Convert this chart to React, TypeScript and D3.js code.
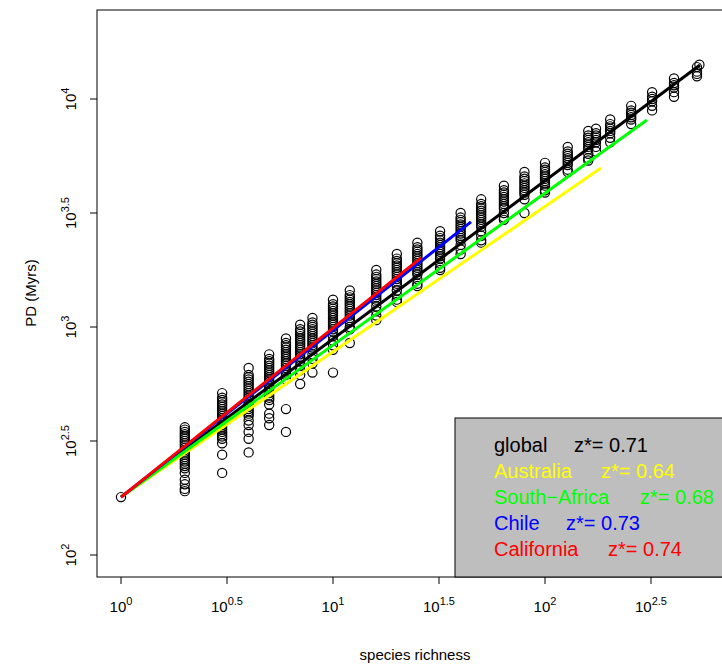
import React from 'react';
import * as d3 from 'd3';

// species richness of each sample column and log10(PD) of its points
const richness = [1, 2, 3, 4, 5, 6, 7, 8, 10, 12, 16, 20, 25, 32, 40, 50, 64, 80, 100, 128, 160, 174, 203, 255, 320, 406, 521, 535];
const logPD: number[][] = [
  [2.254],
  [2.56, 2.55, 2.54, 2.53, 2.52, 2.51, 2.5, 2.49, 2.48, 2.47, 2.46, 2.45, 2.44, 2.43, 2.42, 2.41, 2.4, 2.39, 2.38, 2.36, 2.33, 2.31, 2.29, 2.28],
  [2.71, 2.69, 2.68, 2.67, 2.66, 2.65, 2.64, 2.63, 2.62, 2.61, 2.6, 2.59, 2.58, 2.57, 2.56, 2.55, 2.54, 2.53, 2.52, 2.51, 2.49, 2.44, 2.36],
  [2.82, 2.79, 2.78, 2.77, 2.76, 2.75, 2.74, 2.73, 2.72, 2.71, 2.7, 2.69, 2.68, 2.67, 2.66, 2.65, 2.64, 2.63, 2.62, 2.61, 2.59, 2.57, 2.54, 2.51, 2.45],
  [2.88, 2.86, 2.85, 2.84, 2.83, 2.82, 2.81, 2.8, 2.79, 2.78, 2.77, 2.76, 2.75, 2.74, 2.73, 2.72, 2.71, 2.7, 2.69, 2.68, 2.66, 2.62, 2.6, 2.57],
  [2.95, 2.93, 2.92, 2.91, 2.9, 2.89, 2.88, 2.87, 2.86, 2.85, 2.84, 2.83, 2.82, 2.81, 2.8, 2.79, 2.77, 2.64, 2.54],
  [3.01, 2.99, 2.98, 2.97, 2.96, 2.95, 2.94, 2.93, 2.92, 2.91, 2.9, 2.89, 2.88, 2.87, 2.86, 2.85, 2.83, 2.81, 2.79, 2.75],
  [3.04, 3.02, 3.01, 3.0, 2.99, 2.98, 2.97, 2.96, 2.95, 2.94, 2.93, 2.92, 2.91, 2.9, 2.88, 2.86, 2.84, 2.8],
  [3.12, 3.1, 3.09, 3.08, 3.07, 3.06, 3.05, 3.04, 3.03, 3.02, 3.01, 3.0, 2.99, 2.98, 2.96, 2.94, 2.92, 2.9, 2.8],
  [3.16, 3.14, 3.13, 3.12, 3.11, 3.1, 3.09, 3.08, 3.07, 3.06, 3.05, 3.04, 3.03, 3.02, 3.0, 2.99, 2.93],
  [3.25, 3.23, 3.22, 3.21, 3.2, 3.19, 3.18, 3.17, 3.16, 3.15, 3.14, 3.13, 3.12, 3.11, 3.09, 3.07, 3.05, 3.03],
  [3.32, 3.3, 3.29, 3.28, 3.27, 3.26, 3.25, 3.24, 3.23, 3.22, 3.21, 3.2, 3.19, 3.18, 3.16, 3.14, 3.12, 3.11],
  [3.37, 3.35, 3.34, 3.33, 3.32, 3.31, 3.3, 3.29, 3.28, 3.27, 3.26, 3.25, 3.24, 3.23, 3.21, 3.19, 3.18],
  [3.42, 3.4, 3.39, 3.38, 3.37, 3.36, 3.35, 3.34, 3.33, 3.32, 3.31, 3.3, 3.28, 3.26, 3.25],
  [3.5, 3.48, 3.47, 3.46, 3.45, 3.44, 3.43, 3.42, 3.41, 3.4, 3.39, 3.38, 3.36, 3.34, 3.32],
  [3.56, 3.54, 3.53, 3.52, 3.51, 3.5, 3.49, 3.48, 3.47, 3.46, 3.45, 3.44, 3.42, 3.4, 3.38, 3.37],
  [3.62, 3.6, 3.59, 3.58, 3.57, 3.56, 3.55, 3.54, 3.53, 3.52, 3.5, 3.48, 3.47],
  [3.68, 3.66, 3.65, 3.64, 3.63, 3.62, 3.61, 3.6, 3.59, 3.58, 3.56, 3.5],
  [3.72, 3.7, 3.69, 3.68, 3.67, 3.66, 3.65, 3.64, 3.63, 3.62, 3.6, 3.59],
  [3.79, 3.77, 3.76, 3.75, 3.74, 3.73, 3.72, 3.71, 3.69, 3.68],
  [3.86, 3.84, 3.83, 3.82, 3.81, 3.8, 3.79, 3.78, 3.76, 3.74, 3.73],
  [3.87, 3.85, 3.84, 3.83, 3.82, 3.81, 3.79, 3.77],
  [3.91, 3.89, 3.88, 3.87, 3.86, 3.85, 3.83, 3.81],
  [3.97, 3.95, 3.94, 3.93, 3.92, 3.91, 3.89],
  [4.03, 4.01, 4.0, 3.99, 3.97, 3.95],
  [4.09, 4.07, 4.06, 4.05, 4.03, 4.01],
  [4.14, 4.12, 4.11, 4.1],
  [4.15],
];

// fitted lines: name, z, colour, end point (log10 richness, log10 PD); all start at (0, 2.254)
const lineNames = ['global', 'Australia', 'South\u2212Africa', 'Chile', 'California'];
const lineZ = ['0.71', '0.64', '0.68', '0.73', '0.74'];
const lineColors = ['#000000', '#ffff00', '#00ff00', '#0000ff', '#ff0000'];
const lineEndX = [2.731, 2.264, 2.481, 1.651, 1.415];
const lineEndY = [4.149, 3.697, 3.908, 3.461, 3.303];
const lineStartY = 2.254;
const zLabelX = [574, 601, 640, 566, 608];

const xTicks = [0, 0.5, 1, 1.5, 2, 2.5];
const yTicks = [2, 2.5, 3, 3.5, 4];

export default function App() {
  const x = d3.scaleLinear().domain([0, 0.5]).range([121, 227]);
  const y = d3.scaleLinear().domain([2, 2.5]).range([555, 441]);
  const left = 97, top = 10, bottom = 577, right = 740;
  const font = 'Liberation Sans, Arial, sans-serif';
  const line = d3.line<[number, number]>().x(d => x(d[0])).y(d => y(d[1]));

  return (
    <svg width={722} height={666} style={{ position: 'absolute', left: 0, top: 0 }} fontFamily={font}>
      <rect x={0} y={0} width={722} height={666} fill="#fff" />
      {richness.map((r, i) =>
        logPD[i].map((v, j) => (
          <circle key={`${i}-${j}`} cx={x(Math.log10(r))} cy={y(v)} r={4.6} fill="none" stroke="#000" strokeWidth={1.2} />
        ))
      )}
      {lineNames.map((n, i) => (
        <path key={n} d={line([[0, lineStartY], [lineEndX[i], lineEndY[i]]]) as string}
          stroke={lineColors[i]} strokeWidth={3} fill="none" />
      ))}
      <rect x={left} y={top} width={right - left} height={bottom - top} fill="none" stroke="#000" strokeWidth={1} />
      {xTicks.map(t => (
        <g key={t}>
          <line x1={x(t)} x2={x(t)} y1={bottom} y2={bottom + 7} stroke="#000" />
          <text x={x(t)} y={612} textAnchor="middle" fontSize={15}>
            10<tspan dy={-7} fontSize={11}>{t}</tspan>
          </text>
        </g>
      ))}
      {yTicks.map(t => (
        <g key={t}>
          <line x1={left - 7} x2={left} y1={y(t)} y2={y(t)} stroke="#000" />
          <text transform={`translate(76,${y(t)}) rotate(-90)`} textAnchor="middle" fontSize={15}>
            10<tspan dy={-7} fontSize={11}>{t}</tspan>
          </text>
        </g>
      ))}
      <text x={415} y={660} textAnchor="middle" fontSize={15}>species richness</text>
      <text transform="translate(36,293) rotate(-90)" textAnchor="middle" fontSize={15}>PD (Myrs)</text>
      <rect x={455} y={418} width={300} height={159} fill="#bebebe" stroke="#000" strokeWidth={1} />
      {lineNames.map((n, i) => (
        <g key={n} fill={lineColors[i]} fontSize={20}>
          <text x={494} y={452 + i * 26}>{n}</text>
          <text x={zLabelX[i]} y={452 + i * 26}>z*= {lineZ[i]}</text>
        </g>
      ))}
    </svg>
  );
}
